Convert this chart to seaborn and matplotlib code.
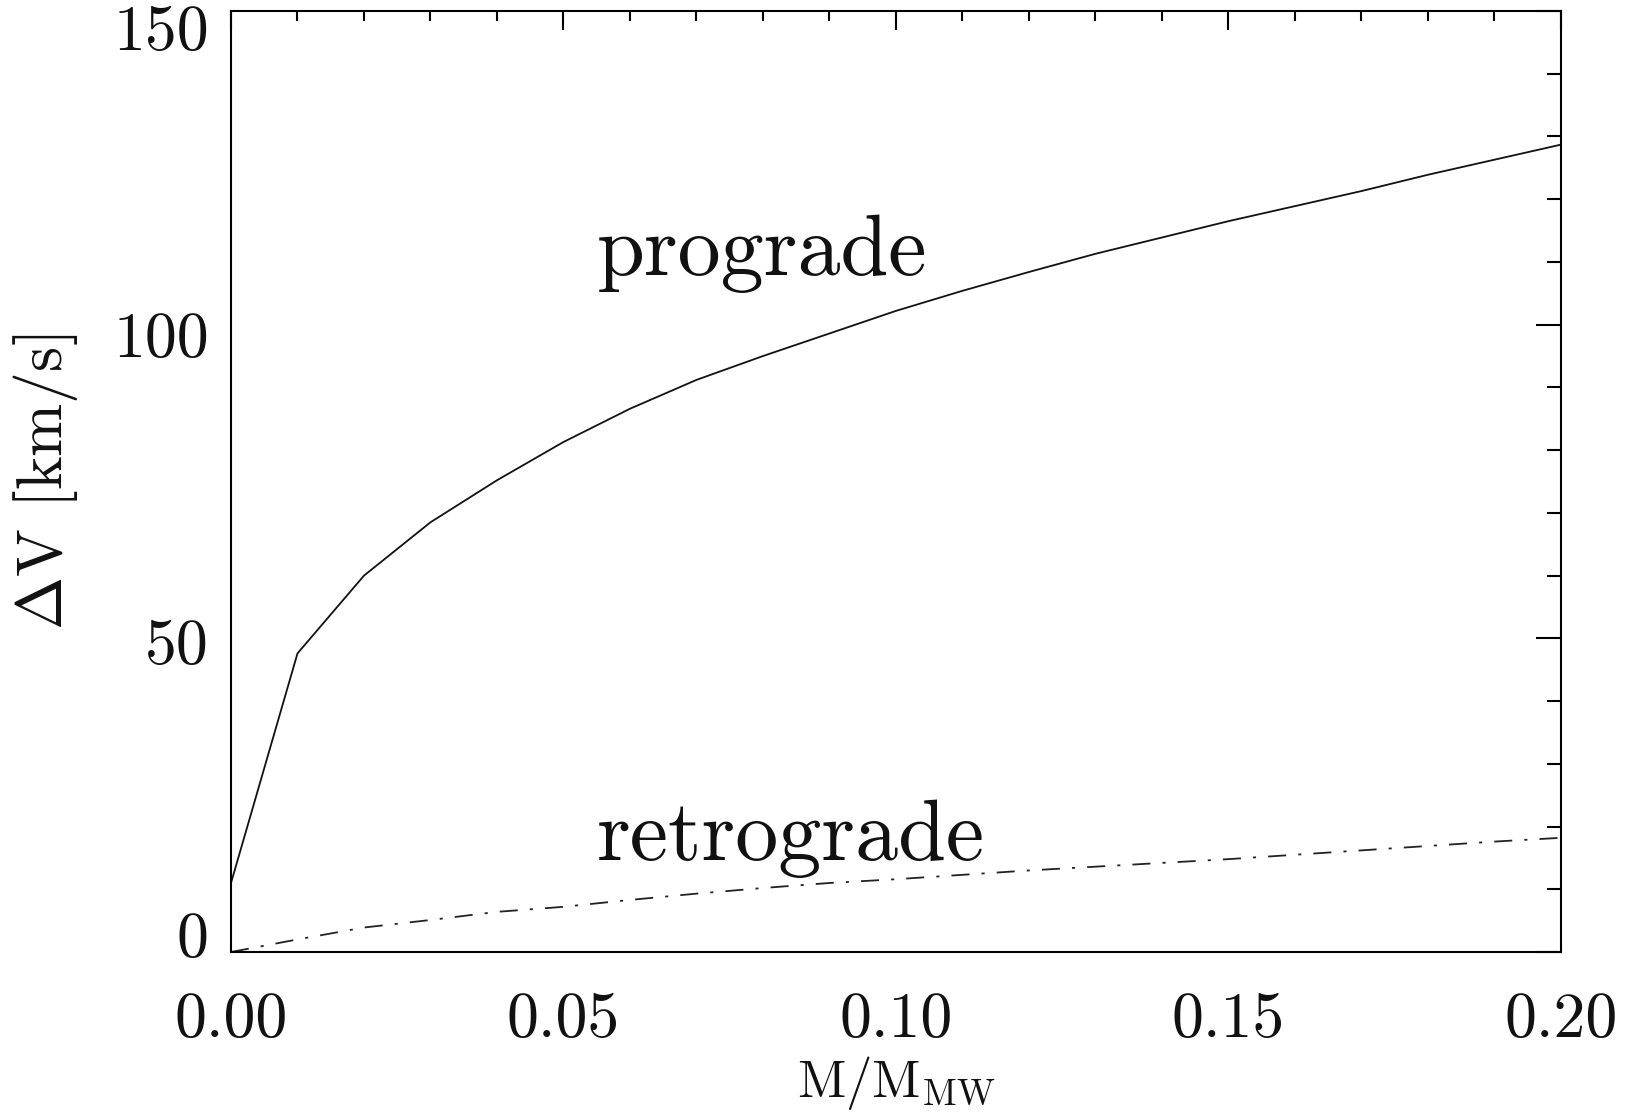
import matplotlib
matplotlib.use("Agg")
import matplotlib.pyplot as plt
from matplotlib.ticker import MultipleLocator, FormatStrFormatter
from matplotlib.transforms import ScaledTranslation
import numpy as np
import pandas as pd
import seaborn as sns

# Satellite mass in units of the Milky Way mass
mass_ratio = [0.00, 0.01, 0.02, 0.03, 0.04, 0.05, 0.06, 0.07, 0.08, 0.09, 0.10,
              0.11, 0.12, 0.13, 0.14, 0.15, 0.16, 0.17, 0.18, 0.19, 0.20]

# Velocity change [km/s] for prograde and retrograde orbits
dv_prograde = [11.0, 47.6, 60.0, 68.5, 75.2, 81.3, 86.6, 91.2, 95.0, 98.6, 102.2,
               105.4, 108.4, 111.3, 113.9, 116.5, 118.9, 121.3, 123.9, 126.3, 128.7]
dv_retrograde = [0.0, 2.0, 3.9, 5.1, 6.4, 7.2, 8.3, 9.3, 10.2, 11.0, 11.6,
                 12.3, 13.0, 13.6, 14.2, 14.8, 15.5, 16.2, 16.9, 17.6, 18.2]

orbits = ["prograde", "retrograde"]

df = pd.DataFrame({
    "mass": mass_ratio * 2,
    "dv": dv_prograde + dv_retrograde,
    "orbit": [orbits[0]] * len(mass_ratio) + [orbits[1]] * len(mass_ratio),
})

sns.set_theme(style="white")
plt.rcParams.update({
    "font.family": ["cmr10", "DejaVu Serif"],
    "mathtext.fontset": "cm",
    "axes.formatter.use_mathtext": True,
    "axes.linewidth": 1.5,
    "axes.edgecolor": "black",
    "text.color": "#111111",
    "axes.labelcolor": "#111111",
    "xtick.color": "black",
    "ytick.color": "black",
    "xtick.labelcolor": "#111111",
    "ytick.labelcolor": "#111111",
})

fig = plt.figure(figsize=(16.36, 11.15), dpi=100)
ax = fig.add_axes([0.1412, 0.1462, 0.8129, 0.8439])

sns.lineplot(
    data=df, x="mass", y="dv", hue="orbit", style="orbit",
    palette={"prograde": "#111111", "retrograde": "#222222"},
    dashes={"prograde": "", "retrograde": (10, 6.7, 1.7, 6.7)},
    linewidth=1.3, legend=False, sort=False, ax=ax,
)

ax.set_xlim(0, 0.2)
ax.set_ylim(0, 150)

ax.xaxis.set_major_locator(MultipleLocator(0.05))
ax.xaxis.set_minor_locator(MultipleLocator(0.01))
ax.yaxis.set_major_locator(MultipleLocator(50))
ax.yaxis.set_minor_locator(MultipleLocator(10))
ax.xaxis.set_major_formatter(FormatStrFormatter("%.2f"))
ax.yaxis.set_major_formatter(FormatStrFormatter("%d"))

ax.tick_params(which="both", direction="in", top=True, right=True, width=1.5)
ax.tick_params(axis="x", which="major", length=13.7, pad=29, labelsize=46)
ax.tick_params(axis="x", which="minor", length=7.2)
ax.tick_params(axis="y", which="major", length=18, pad=16, labelsize=46)
ax.tick_params(axis="y", which="minor", length=10)

for s in ax.spines.values():
    s.set_visible(True)
    s.set_linewidth(1.5)

ax.set_xlabel(r"M/M$_{\rm MW}$", fontsize=38, labelpad=3)
ax.set_ylabel(r"$\Delta$V [km/s]", fontsize=46, labelpad=24)

ax.text(0.055, 107.9, "prograde", fontsize=62, ha="left", va="baseline")
ax.text(0.055, 14.7, "retrograde", fontsize=62, ha="left", va="baseline")

# Pull the y tick labels inward so the end labels sit inside the frame height
fig.canvas.draw()
label_shift_px = {0: 17, 50: -3, 100: -10, 150: -16}
for tick in ax.yaxis.get_major_ticks():
    loc = round(tick.get_loc())
    if loc in label_shift_px:
        dy = label_shift_px[loc] / fig.dpi
        tick.label1.set_transform(
            tick.label1.get_transform() + ScaledTranslation(0, dy, fig.dpi_scale_trans)
        )

fig.savefig("out.png", dpi=100, facecolor="white")
